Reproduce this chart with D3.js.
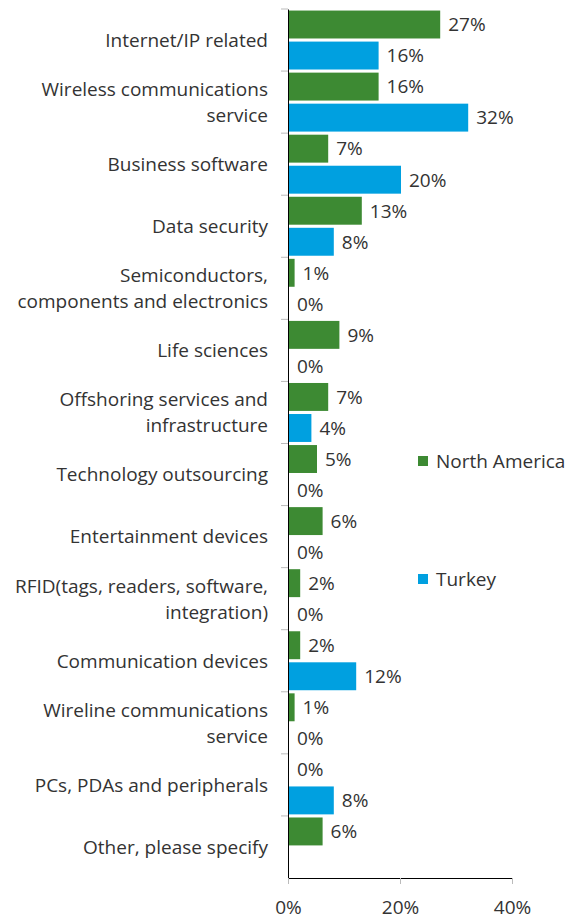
<!DOCTYPE html>
<html>
<head>
<meta charset="utf-8">
<script src="https://cdn.jsdelivr.net/npm/d3@7"></script>
<style>
	body { margin: 0; background: #fff; }
	text { font-family: "Open Sans", "Noto Sans", sans-serif; fill: #333; }
</style>
</head>
<body>
<div id="chart"></div>
<script>
// data
// ----------------------------------------
var categories = [
	"Internet/IP related",
	"Wireless communications\nservice",
	"Business software",
	"Data security",
	"Semiconductors,\ncomponents and electronics",
	"Life sciences",
	"Offshoring services and\ninfrastructure",
	"Technology outsourcing",
	"Entertainment devices",
	"RFID(tags, readers, software,\nintegration)",
	"Communication devices",
	"Wireline communications\nservice",
	"PCs, PDAs and peripherals",
	"Other, please specify"
];
var northAmerica = [27, 16, 7, 13, 1, 9, 7, 5, 6, 2, 2, 1, 0, 6];
var turkey = [16, 32, 20, 8, 0, 0, 4, 0, 0, 0, 12, 0, 8, null];
var seriesNames = ["North America", "Turkey"];
var xTicks = [0, 20, 40];

// main variables
// ----------------------------------------
var width = 584, height = 921;
var colors = ["#3d8a33", "#00a0e0"];

var svg = d3.select("#chart")
	.append("svg")
	.attr("width", width)
	.attr("height", height);

var x = d3.scaleLinear()
	.domain([0, 40])
	.range([288, 512]);

var y = d3.scaleBand()
	.domain(categories)
	.range([9, 878]);

var inner = d3.scaleBand()
	.domain(seriesNames)
	.range([0, y.bandwidth()])
	.paddingInner(0.1)
	.paddingOuter(0.05);

// bars
var rows = categories.map(function(c, i){
	return {cat: c, vals: [northAmerica[i], turkey[i]]};
});

var groups = svg.selectAll("g.row")
	.data(rows)
	.enter().append("g")
	.attr("class", "row")
	.attr("transform", function(d){ return "translate(0," + y(d.cat) + ")"; });

groups.each(function(d){
	var g = d3.select(this);
	d.vals.forEach(function(v, k){
		if (v === null) return;
		var yy = inner(seriesNames[k]);
		if (v > 0) {
			g.append("rect")
				.attr("x", x(0) + 1)
				.attr("y", yy)
				.attr("width", x(v) - x(0))
				.attr("height", inner.bandwidth())
				.attr("fill", colors[k]);
		}
		g.append("text")
			.attr("x", x(v) + 9)
			.attr("y", yy + inner.bandwidth() / 2)
			.attr("dy", "0.36em")
			.style("font-size", "19px")
			.text(v + "%");
	});
});

// category axis
var yAxis = svg.append("g")
	.attr("transform", "translate(" + x(0) + ",0)")
	.call(d3.axisLeft(y).tickValues([]).tickSizeOuter(0));
yAxis.select(".domain").attr("stroke", "#000");

// ticks between categories
svg.selectAll("line.ctick")
	.data(categories)
	.enter().append("line")
	.attr("class", "ctick")
	.attr("x1", x(0) - 7).attr("x2", x(0))
	.attr("y1", function(d){ return y(d); })
	.attr("y2", function(d){ return y(d); })
	.attr("stroke", "#bbb");

// category labels
svg.selectAll("text.cat")
	.data(categories)
	.enter().append("text")
	.attr("class", "cat")
	.attr("text-anchor", "end")
	.style("font-size", "19px")
	.each(function(d){
		var lines = d.split("\n");
		var cy = y(d) + y.bandwidth() / 2;
		var t = d3.select(this);
		lines.forEach(function(l, i){
			t.append("tspan")
				.attr("x", 268)
				.attr("y", cy + (i - (lines.length - 1) / 2) * 26)
				.attr("dy", "0.36em")
				.text(l);
		});
	});

// x axis
var xAxis = svg.append("g")
	.attr("transform", "translate(0,878)")
	.call(d3.axisBottom(x).tickValues(xTicks).tickSize(6).tickSizeOuter(0)
		.tickFormat(function(d){ return d + "%"; }));
xAxis.select(".domain").attr("stroke", "#000");
xAxis.selectAll(".tick line").attr("stroke", "#bbb");
xAxis.selectAll(".tick text")
	.attr("y", 36)
	.attr("dy", 0)
	.style("font-size", "19px")
	.style("font-family", "'Open Sans', 'Noto Sans', sans-serif")
	.attr("fill", "#333");

// legend
var legend = svg.selectAll("g.legend")
	.data(seriesNames)
	.enter().append("g")
	.attr("class", "legend")
	.attr("transform", function(d, i){ return "translate(418," + (461 + i * 118) + ")"; });

legend.append("rect")
	.attr("x", 0).attr("y", -5)
	.attr("width", 10).attr("height", 10)
	.attr("fill", function(d, i){ return colors[i]; });

legend.append("text")
	.attr("x", 18)
	.attr("dy", "0.36em")
	.style("font-size", "19px")
	.text(function(d){ return d; });
</script>
</body>
</html>
